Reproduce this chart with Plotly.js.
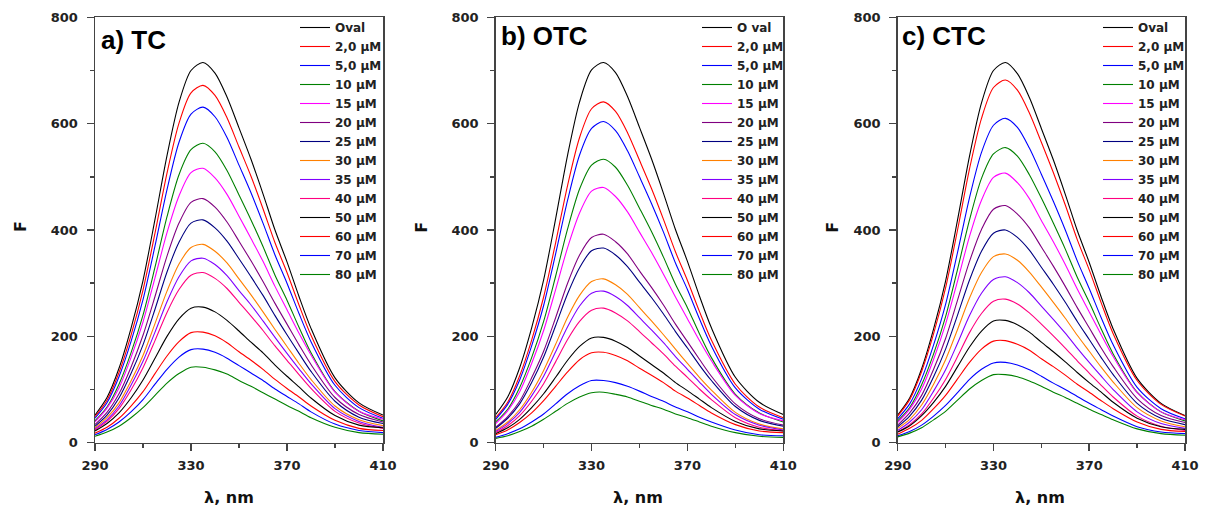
<!DOCTYPE html>
<html><head><meta charset="utf-8">
<script src="https://cdn.plot.ly/plotly-3.0.1.min.js"></script>
<style>html,body{margin:0;padding:0;background:#fff}#chart{width:1205px;height:508px}</style>
</head><body><div id="chart"></div>
<script>
const wavelength = [290,295,300,305,310,315,320,325,330,335,340,345,350,355,360,365,370,375,380,390,400,410];
const seriesNames = ["Oval","2,0 µM","5,0 µM","10 µM","15 µM","20 µM","25 µM","30 µM","35 µM","40 µM","50 µM","60 µM","70 µM","80 µM"];
const seriesNamesOTC = ["O val","2,0 µM","5,0 µM","10 µM","15 µM","20 µM","25 µM","30 µM","35 µM","40 µM","50 µM","60 µM","70 µM","80 µM"];
const seriesColors = ["#000000","#ff0000","#0000ff","#008000","#ff00ff","#800080","#000080","#ff8000","#8000ff","#ff0080","#000000","#ff0000","#0000ff","#008000"];
const panelTitles = ["a) TC","b) OTC","c) CTC"];
const xTicks = [290,330,370,410];
const yTicks = [0,200,400,600,800];

// a) TC
const tc_oval = [52,85,140,215,305,420,540,640,700,715,695,650,592,533,468,400,340,275,215,122,75,52];
const tc_2 = [49,80,132,202,287,394,507,601,658,672,653,611,556,501,440,376,320,259,202,115,71,49];
const tc_5 = [46,75,124,190,269,370,476,565,618,631,613,574,522,470,413,353,300,243,190,108,66,46];
const tc_10 = [41,67,110,169,240,330,425,504,551,563,547,512,466,419,369,315,268,217,169,96,59,41];
const tc_15 = [39,65,103,160,227,310,395,464,508,516,498,467,426,384,341,294,250,206,165,95,59,44];
const tc_20 = [34,57,92,142,202,275,351,413,452,459,443,415,379,342,303,262,223,184,147,85,53,39];
const tc_25 = [31,52,84,130,184,251,321,377,413,419,404,379,346,312,277,239,203,168,134,78,48,36];
const tc_30 = [28,47,75,116,164,224,285,336,367,373,360,338,308,278,246,213,181,149,119,69,43,32];
const tc_35 = [26,43,69,108,153,208,265,312,342,347,335,314,286,259,229,198,168,139,111,64,40,29];
const tc_40 = [24,40,64,99,141,192,245,288,315,320,309,290,264,238,211,182,155,128,102,59,37,27];
const tc_50 = [22,36,56,84,118,159,200,233,253,255,246,230,210,189,169,146,125,105,84,51,33,28];
const tc_60 = [18,29,46,69,96,130,163,190,207,208,201,188,171,155,138,119,102,86,69,42,27,23];
const tc_70 = [15,25,39,58,81,110,138,161,175,176,170,159,145,131,117,101,87,73,58,35,23,19];
const tc_80 = [12,20,31,47,66,89,112,130,142,142,137,129,117,106,94,82,70,59,47,29,19,16];

// b) OTC
const otc_oval = [53,86,141,216,306,421,541,641,701,715,696,651,593,534,469,401,341,276,216,123,76,53];
const otc_2 = [47,76,126,193,274,376,484,574,628,641,623,583,531,478,420,359,305,247,193,110,67,47];
const otc_5 = [44,72,118,182,258,355,456,541,591,604,587,549,500,450,396,338,288,233,182,103,63,44];
const otc_10 = [39,63,104,160,228,313,402,477,522,533,518,484,441,397,349,298,254,205,160,91,56,39];
const otc_15 = [36,60,96,149,211,288,367,432,473,480,463,434,396,358,317,274,233,192,154,89,55,41];
const otc_20 = [29,49,78,122,172,235,300,353,386,392,378,355,323,292,259,223,190,157,125,73,45,33];
const otc_25 = [27,46,73,113,161,220,280,329,361,366,353,331,302,273,242,209,178,146,117,68,42,31];
const otc_30 = [23,39,62,95,136,185,236,277,303,308,297,279,254,229,203,176,149,123,99,57,35,26];
const otc_35 = [21,36,57,88,125,171,218,257,281,285,275,258,235,212,188,162,138,114,91,53,33,24];
const otc_40 = [19,32,51,78,111,152,194,228,249,253,244,229,209,188,167,144,123,101,81,47,29,22];
const otc_50 = [17,28,44,66,92,123,155,181,197,198,191,179,163,147,131,113,98,82,66,40,26,22];
const otc_60 = [15,24,38,56,79,106,133,156,169,170,164,154,140,127,113,97,84,70,56,34,22,19];
const otc_70 = [10,17,26,39,54,73,92,107,117,117,113,106,97,87,78,67,58,48,39,24,15,13];
const otc_80 = [8,13,21,31,44,59,74,86,94,95,91,86,78,70,63,54,47,39,31,19,12,10];

// c) CTC
const ctc_oval = [52,84,139,214,304,419,539,639,700,715,694,649,591,532,467,399,339,274,214,121,74,51];
const ctc_2 = [50,81,134,205,291,400,515,610,668,682,663,620,565,508,447,382,325,263,205,117,72,50];
const ctc_5 = [45,73,120,184,260,358,461,546,597,610,593,554,505,454,400,342,290,235,184,104,64,45];
const ctc_10 = [41,66,109,167,237,326,419,497,543,555,539,504,460,413,364,311,264,214,167,95,58,41];
const ctc_15 = [38,63,101,157,223,304,388,456,499,507,489,459,418,378,335,289,246,203,162,94,58,43];
const ctc_20 = [33,56,89,138,196,268,341,401,439,446,430,404,368,332,294,254,216,178,143,83,51,38];
const ctc_25 = [30,50,80,124,176,240,306,360,394,400,386,362,330,298,264,228,194,160,128,74,46,34];
const ctc_30 = [27,44,71,110,156,213,272,320,350,355,343,321,293,264,234,202,172,142,114,66,41,30];
const ctc_35 = [23,39,62,97,137,187,239,281,307,312,301,282,257,232,206,178,151,125,100,58,36,27];
const ctc_40 = [20,34,54,84,119,162,207,243,266,270,261,244,223,201,178,154,131,108,86,50,31,23];
const ctc_50 = [20,32,51,76,106,143,180,210,229,230,222,208,189,171,152,132,113,95,76,46,30,25];
const ctc_60 = [16,27,42,64,89,120,151,176,191,192,185,174,158,143,127,110,95,79,64,39,25,21];
const ctc_70 = [13,21,33,50,70,94,119,138,150,151,146,137,125,112,100,87,74,62,50,30,20,17];
const ctc_80 = [11,18,28,43,59,80,101,117,128,128,124,116,106,95,85,74,63,53,43,26,17,14];

const panelSeries = [
  [tc_oval,tc_2,tc_5,tc_10,tc_15,tc_20,tc_25,tc_30,tc_35,tc_40,tc_50,tc_60,tc_70,tc_80],
  [otc_oval,otc_2,otc_5,otc_10,otc_15,otc_20,otc_25,otc_30,otc_35,otc_40,otc_50,otc_60,otc_70,otc_80],
  [ctc_oval,ctc_2,ctc_5,ctc_10,ctc_15,ctc_20,ctc_25,ctc_30,ctc_35,ctc_40,ctc_50,ctc_60,ctc_70,ctc_80]
];
const panelNames = [seriesNames, seriesNamesOTC, seriesNames];

const W = 1205, H = 508;
const axisColor = '#444';
const tickFont = {family:'DejaVu Sans', size:13, weight:'bold', color:'#222'};
const plotLeft = [95, 495.7, 897.7], plotRight = [383, 783.3, 1185];
const plotTop = 17.3, plotBottom = 442.7;
const legendLeft = [295, 697, 1098];
const yTitleX = [20, 420.7, 831.7];
const xTitleX = [229, 638, 1040];
const titleX = [99, 499, 900];
const titleY = [40, 36, 36];

const traces = [];
const layout = {
  width: W, height: H, margin:{l:0,r:0,t:0,b:0},
  paper_bgcolor:'#fff', plot_bgcolor:'#fff', showlegend:true,
  annotations: []
};
for (let p = 0; p < 3; p++) {
  const sfx = p === 0 ? '' : String(p + 1);
  const legName = 'legend' + sfx;
  panelSeries[p].forEach((vals, i) => {
    traces.push({
      x: wavelength, y: vals, type:'scatter', mode:'lines',
      name: panelNames[p][i], legend: legName,
      xaxis: 'x' + sfx, yaxis: 'y' + sfx,
      line: {color: seriesColors[i], width: 1.1, shape:'spline', smoothing:0.8},
      hoverinfo:'skip'
    });
  });
  const common = {
    ticks:'outside', ticklen:7, tickwidth:1.5, tickcolor:axisColor,
    showline:true, linecolor:axisColor, linewidth:1.5, mirror:true,
    showgrid:false, zeroline:false, tickfont:tickFont, fixedrange:true
  };
  layout['xaxis' + sfx] = Object.assign({}, common, {
    domain:[plotLeft[p]/W, plotRight[p]/W], range:[290,410],
    tickmode:'array', tickvals:xTicks, ticktext:xTicks.map(String),
    anchor:'y' + sfx, ticklabelstandoff: 3,
    minor:{dtick:20, tick0:290, ticks:'outside', ticklen:4, tickwidth:1.5, tickcolor:axisColor, showgrid:false}
  });
  layout['yaxis' + sfx] = Object.assign({}, common, {
    domain:[1 - plotBottom/H, 1 - plotTop/H], range:[0,800],
    tickmode:'array', tickvals:yTicks, ticktext:yTicks.map(String),
    anchor:'x' + sfx, ticklabelstandoff: 6,
    minor:{dtick:100, tick0:0, ticks:'outside', ticklen:4, tickwidth:1.5, tickcolor:axisColor, showgrid:false}
  });
  layout[legName] = {
    x: legendLeft[p]/W, y: 1 - 13/H, xanchor:'left', yanchor:'top',
    bgcolor:'rgba(0,0,0,0)', borderwidth:0, tracegroupgap:0,
    font:{family:'DejaVu Sans', size:12, weight:'bold', color:'#222'}
  };
  layout.annotations.push({
    xref:'paper', yref:'paper', x:titleX[p]/W, y:1 - titleY[p]/H, xanchor:'left', yanchor:'middle',
    text: panelTitles[p], showarrow:false,
    font:{family:'Liberation Sans', size:26, weight:'bold', color:'#000'}
  });
  layout.annotations.push({
    xref:'paper', yref:'paper', x:yTitleX[p]/W, y:1 - 227/H, xanchor:'center', yanchor:'middle',
    text:'F', textangle:-90, showarrow:false,
    font:{family:'DejaVu Sans', size:16, weight:'bold', color:'#111'}
  });
  layout.annotations.push({
    xref:'paper', yref:'paper', x:xTitleX[p]/W, y:1 - 497/H, xanchor:'center', yanchor:'middle',
    text:'λ, nm', showarrow:false,
    font:{family:'DejaVu Sans', size:16, weight:'bold', color:'#111'}
  });
}
Plotly.newPlot('chart', traces, layout, {staticPlot:true, displayModeBar:false});
</script></body></html>
